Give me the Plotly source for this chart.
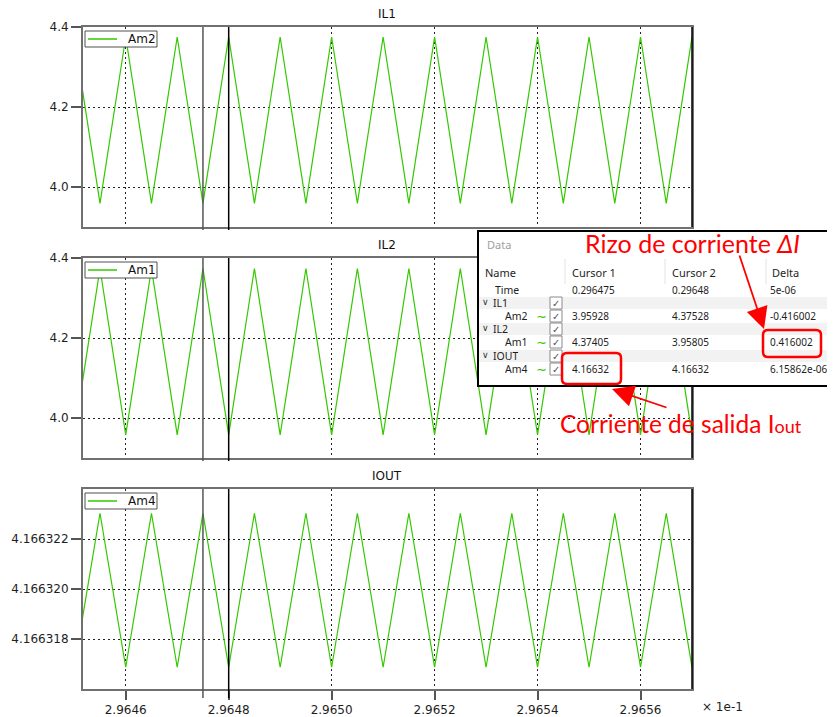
import plotly.graph_objects as go

# ---------------- data ----------------
time_x1e1 = [2.96450, 2.96455, 2.96460, 2.96465, 2.96470, 2.96475, 2.96480, 2.96485,
             2.96490, 2.96495, 2.96500, 2.96505, 2.96510, 2.96515, 2.96520, 2.96525,
             2.96530, 2.96535, 2.96540, 2.96545, 2.96550, 2.96555, 2.96560, 2.96565,
             2.96570]
il1_am2 = [4.37528, 3.95928, 4.37528, 3.95928, 4.37528, 3.95928, 4.37528, 3.95928,
           4.37528, 3.95928, 4.37528, 3.95928, 4.37528, 3.95928, 4.37528, 3.95928,
           4.37528, 3.95928, 4.37528, 3.95928, 4.37528, 3.95928, 4.37528, 3.95928,
           4.37528]
il2_am1 = [3.95805, 4.37405, 3.95805, 4.37405, 3.95805, 4.37405, 3.95805, 4.37405,
           3.95805, 4.37405, 3.95805, 4.37405, 3.95805, 4.37405, 3.95805, 4.37405,
           3.95805, 4.37405, 3.95805, 4.37405, 3.95805, 4.37405, 3.95805, 4.37405,
           3.95805]
iout_am4 = [4.16631687, 4.16632303, 4.16631687, 4.16632303, 4.16631687, 4.16632303,
            4.16631687, 4.16632303, 4.16631687, 4.16632303, 4.16631687, 4.16632303,
            4.16631687, 4.16632303, 4.16631687, 4.16632303, 4.16631687, 4.16632303,
            4.16631687, 4.16632303, 4.16631687, 4.16632303, 4.16631687, 4.16632303,
            4.16631687]
cursor_times = [2.96475, 2.96480]
x_range = [2.964517, 2.965700]
x_tickvals = [2.9646, 2.9648, 2.9650, 2.9652, 2.9654, 2.9656]
x_ticktext = ["2.9646", "2.9648", "2.9650", "2.9652", "2.9654", "2.9656"]
il_range = [3.9, 4.4003]
il_tickvals = [4.0, 4.2, 4.4]
il_ticktext = ["4.0", "4.2", "4.4"]
iout_range = [4.166316, 4.166324]
iout_tickvals = [4.166318, 4.166320, 4.166322]
iout_ticktext = ["4.166318", "4.166320", "4.166322"]
panel_titles = ["IL1", "IL2", "IOUT"]
series_names = ["Am2", "Am1", "Am4"]

table_header = ["Name", "Cursor 1", "Cursor 2", "Delta"]
table_rows = [
    ("Time", "0.296475", "0.29648", "5e-06", "top"),
    ("IL1", "", "", "", "group"),
    ("Am2", "3.95928", "4.37528", "-0.416002", "child"),
    ("IL2", "", "", "", "group"),
    ("Am1", "4.37405", "3.95805", "0.416002", "child"),
    ("IOUT", "", "", "", "group"),
    ("Am4", "4.16632", "4.16632", "6.15862e-06", "child"),
]

# ---------------- layout helpers ----------------
OFF = 8                      # page body margin
W, H = 835 - OFF, 717 - OFF
L, R, T, B = 83, 692, 27, 689   # plot area in screen pixels
def px(X):
    return (X - L) / (R - L)
def py(Y):
    return (B - Y) / (B - T)

GREEN = "#33c800"
RED = "#ff0000"
TICKFONT = dict(family="DejaVu Sans", size=12, color="#1e1e1e")
TBLFONT = "Noto Sans"

panel_px = [(27, 227), (258, 458), (489, 689)]  # top, bottom screen rows
series = [il1_am2, il2_am1, iout_am4]

fig = go.Figure()
for k in range(3):
    sfx = "" if k == 0 else str(k + 1)
    fig.add_trace(go.Scatter(x=time_x1e1, y=series[k], mode="lines",
                             line=dict(color=GREEN, width=1.2),
                             name=series_names[k], showlegend=False,
                             xaxis="x" + sfx, yaxis="y" + sfx,
                             hoverinfo="skip"))

layout = dict(width=W, height=H,
              margin=dict(l=L - OFF, r=W - (R - OFF), t=T - OFF, b=H - (B - OFF), pad=0,
                          autoexpand=False),
              paper_bgcolor="white", plot_bgcolor="white", showlegend=False)

for k in range(3):
    sfx = "" if k == 0 else str(k + 1)
    top, bot = panel_px[k]
    last = (k == 2)
    layout["xaxis" + sfx] = dict(
        domain=[0, 1], anchor="y" + sfx, range=x_range, automargin=False,
        tickvals=x_tickvals, ticktext=x_ticktext,
        showticklabels=last, ticks="outside" if last else "",
        ticklen=9, tickwidth=1.5, tickcolor="#555",
        showgrid=True, gridcolor="#222", griddash="2px,3px", gridwidth=1,
        showline=True, linecolor="#707070", linewidth=2, mirror=True,
        zeroline=False, tickfont=TICKFONT,
        matches=None if k == 0 else "x")
    layout["yaxis" + sfx] = dict(
        domain=[py(bot), py(top)], anchor="x" + sfx, automargin=False,
        range=iout_range if last else il_range,
        tickvals=iout_tickvals if last else il_tickvals,
        ticktext=iout_ticktext if last else il_ticktext,
        ticks="outside", ticklen=10, tickwidth=1.5, tickcolor="#555",
        showgrid=True, gridcolor="#222", griddash="2px,3px", gridwidth=1,
        showline=True, linecolor="#707070", linewidth=2, mirror=True,
        zeroline=False, tickfont=TICKFONT)
fig.update_layout(**layout)

shapes = []
annotations = []

def note(text, X, Y, size=11, color="#1e1e1e", family=TBLFONT, anchor="left", h=None):
    d = dict(text=text, xref="paper", yref="paper", x=px(X), y=py(Y),
             xanchor=anchor, yanchor="middle", showarrow=False,
             font=dict(family=family, size=size, color=color))
    if h:
        d["height"] = h
    annotations.append(d)

for k in range(3):
    sfx = "" if k == 0 else str(k + 1)
    top, bot = panel_px[k]
    # right border (black)
    shapes.append(dict(type="line", xref="x" + sfx + " domain", yref="y" + sfx + " domain",
                       x0=1, x1=1, y0=0, y1=1, line=dict(color="black", width=1.5),
                       layer="above"))
    # cursor lines
    ext = 9 if k == 2 else 3
    for ci, ct in enumerate(cursor_times):
        shapes.append(dict(type="line", xref="x" + sfx, yref="paper",
                           x0=ct, x1=ct, y0=py(bot + ext), y1=py(top),
                           line=dict(color="#555555" if ci == 0 else "black", width=1.5),
                           layer="above"))
    # legend box
    shapes.append(dict(type="rect", xref="paper", yref="paper",
                       x0=px(85), x1=px(157), y0=py(top + 20), y1=py(top + 4),
                       fillcolor="white", line=dict(color="#505050", width=1),
                       layer="above"))
    shapes.append(dict(type="line", xref="paper", yref="paper",
                       x0=px(88), x1=px(117), y0=py(top + 12), y1=py(top + 12),
                       line=dict(color=GREEN, width=1.5), layer="above"))
    note(series_names[k], 126, top + 12, size=12, color="#111", family="DejaVu Sans")
    # panel title
    note(panel_titles[k], 387, top - 13, size=12, color="#111", family="DejaVu Sans",
         anchor="center")

# x axis multiplier
note("× 1e-1", 700, 707, size=12, color="#1e1e1e", family="DejaVu Sans")

# ---------------- data table overlay ----------------
shapes.append(dict(type="rect", xref="paper", yref="paper",
                   x0=px(478), x1=px(842), y0=py(386), y1=py(231),
                   fillcolor="white", line=dict(color="black", width=2), layer="above"))
note("Data", 485, 244, size=11, color="#a0a0a0")
col_x = [483, 570, 670, 768]
for ci, h in enumerate(table_header):
    note(h, col_x[ci] + (2 if ci == 3 else 0), 272, size=11)
for sx in [565, 665, 766]:
    shapes.append(dict(type="line", xref="paper", yref="paper", x0=px(sx), x1=px(sx),
                       y0=py(284), y1=py(259), line=dict(color="#e2e2e2", width=1),
                       layer="above"))
row_y = [290, 303, 316, 329, 342, 356, 369]
for ri, (name, c1, c2, dl, kind) in enumerate(table_rows):
    yc = row_y[ri]
    if kind == "group":
        shapes.append(dict(type="rect", xref="paper", yref="paper",
                           x0=px(479), x1=px(841), y0=py(yc + 6), y1=py(yc - 6),
                           fillcolor="#f2f2f2", line=dict(width=0), layer="above"))
        note("∨", 480, yc - 1, size=9, color="#333", family="DejaVu Sans", h=10)
        nx = 491
    elif kind == "child":
        nx = 503
        note("∼", 534, yc, size=13, color=GREEN, family="DejaVu Sans", h=10)
    else:
        nx = 493
    if kind != "top":
        shapes.append(dict(type="rect", xref="paper", yref="paper",
                           x0=px(550), x1=px(562), y0=py(yc + 6), y1=py(yc - 6),
                           fillcolor="white", line=dict(color="#8a8a8a", width=1),
                           layer="above"))
        note("✓", 556, yc, size=10, color="#555", family="DejaVu Sans", anchor="center", h=10)
    note(name, nx, yc, size=10.5, h=12)
    for ci, v in enumerate([c1, c2, dl]):
        if v:
            note(v, col_x[ci + 1], yc, size=10, h=12)

# red highlight boxes (rounded)
def rrect(X0, Y0, X1, Y1, r=5):
    rx, ry = r / (R - L), r / (B - T)
    x0, x1, y0, y1 = px(X0), px(X1), py(Y1), py(Y0)
    return (f"M {x0+rx},{y0} L {x1-rx},{y0} Q {x1},{y0} {x1},{y0+ry} "
            f"L {x1},{y1-ry} Q {x1},{y1} {x1-rx},{y1} L {x0+rx},{y1} Q {x0},{y1} {x0},{y1-ry} "
            f"L {x0},{y0+ry} Q {x0},{y0} {x0+rx},{y0} Z")
for box in [(562, 353, 621, 384), (763, 330, 821, 357)]:
    shapes.append(dict(type="path", xref="paper", yref="paper", path=rrect(*box),
                       line=dict(color=RED, width=2.5), layer="above"))

# red arrows
annotations.append(dict(text="", xref="paper", yref="paper", x=px(764), y=py(329),
                        ax=739 - 764, ay=254 - 329, showarrow=True, arrowhead=2,
                        arrowsize=2.4, arrowwidth=1.8, arrowcolor=RED))
annotations.append(dict(text="", xref="paper", yref="paper", x=px(612), y=py(389),
                        ax=668 - 612, ay=408 - 389, showarrow=True, arrowhead=2,
                        arrowsize=2.4, arrowwidth=1.8, arrowcolor=RED))

# red labels
note("Rizo de corriente <i>ΔI</i>", 583, 243, size=25, color=RED, family="Lato")
note("Corriente de salida I<span style='font-size:18px'>out</span>", 558, 424,
     size=24.5, color=RED, family="Lato")

fig.update_layout(shapes=shapes, annotations=annotations)
fig.write_html("out.html")
